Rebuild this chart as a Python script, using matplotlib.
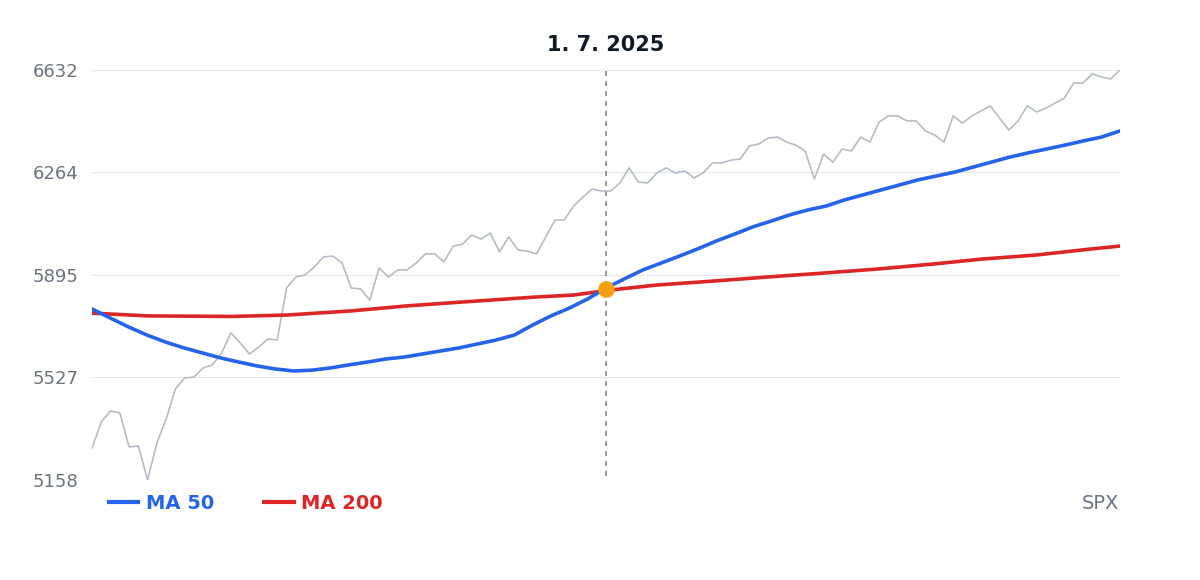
import matplotlib
matplotlib.use("Agg")
import matplotlib.pyplot as plt
import numpy as np
from matplotlib.lines import Line2D

price = [5273,5367,5406,5399,5277,5280,5158,5291,5377,5485,5525,5528,5561,5572,5615,5687,5651,5611,5636,5665,
         5661,5848,5888,5895,5924,5960,5963,5938,5848,5845,5805,5920,5888,5913,5913,5938,5971,5971,5942,5999,
         6006,6039,6024,6046,5978,6032,5985,5981,5971,6032,6093,6093,6143,6175,6204,6197,6197,6226,6280,6229,
         6226,6262,6280,6262,6269,6244,6262,6298,6298,6308,6312,6359,6366,6387,6391,6373,6362,6341,6240,6330,
         6301,6348,6341,6391,6373,6445,6467,6467,6449,6449,6413,6398,6373,6467,6441,6467,6485,6503,6459,6416,
         6449,6503,6481,6495,6513,6531,6585,6585,6618,6607,6600,6632]

ma50 = [5773,5740,5708,5679,5654,5633,5615,5597,5582,5568,5557,5550,5553,5561,5572,5582,5593,5600,5611,5622,
        5633,5647,5661,5679,5715,5748,5776,5809,5848,5881,5913,5938,5963,5989,6017,6042,6068,6089,6111,6129,
        6143,6165,6183,6201,6219,6237,6251,6265,6283,6301,6319,6334,6348,6362,6377,6391,6413]

ma200_idx = [0,6,15,21,28,34,40,48,52,56,61,67,73,79,85,91,96,102,108,111]
ma200 = [5758,5748,5746,5751,5766,5784,5798,5816,5823,5841,5859,5873,5888,5902,5917,5935,5952,5967,5989,5999]

yticks = [5158,5527,5895,6264,6632]
cross_idx = 55.5
cross_val = 5845
title = "1. 7. 2025"

fig = plt.figure(figsize=(12,5.8), dpi=100)
ax = fig.add_axes([0.0767, 0.1724, 0.8566, 0.7069])
x = list(range(len(price)))
ma50_x = np.linspace(0, len(price)-1, len(ma50))
ax.plot(x, price, color="#b4bcc8", lw=1.2, zorder=2)
ax.plot(ma200_idx, ma200, color="#dc2626", lw=2.6, zorder=3)
ax.plot(ma50_x, ma50, color="#2563eb", lw=2.6, zorder=4)
ax.axvline(cross_idx, ymin=0.01, ymax=1, color="#888888", ls=(0,(3,3)), lw=1.2, zorder=1)
ax.scatter([cross_idx],[cross_val], s=120, color="#f59e0b", zorder=5)
ax.set_xlim(0, len(price)-1)
ax.set_ylim(yticks[0], yticks[-1])
ax.set_yticks(yticks)
ax.set_yticklabels([str(t) for t in yticks], fontsize=13, color="#6b7280")
ax.tick_params(axis="y", length=0, pad=10)
ax.set_xticks([])
for s in ax.spines.values():
    s.set_visible(False)
ax.grid(axis="y", color="#e5e7eb", lw=0.8)
ax.set_axisbelow(True)
fig.text(0.505, 0.922, title, ha="center", va="center", fontsize=15, fontweight="bold", color="#111827")

handles = [Line2D([],[],color="#2563eb",lw=3), Line2D([],[],color="#dc2626",lw=3)]
leg = fig.legend(handles, ["MA 50","MA 200"], loc="center left", bbox_to_anchor=(0.076, 0.132), ncol=2,
                 frameon=False, prop={"size":14,"weight":"bold"}, handlelength=1.5, handletextpad=0.4, columnspacing=2.6)
for t, c in zip(leg.get_texts(), ["#2563eb","#dc2626"]):
    t.set_color(c)
fig.text(0.933, 0.132, "SPX", ha="right", va="center", fontsize=14, color="#6b7280")
fig.savefig("out.png", dpi=100, facecolor="white")
